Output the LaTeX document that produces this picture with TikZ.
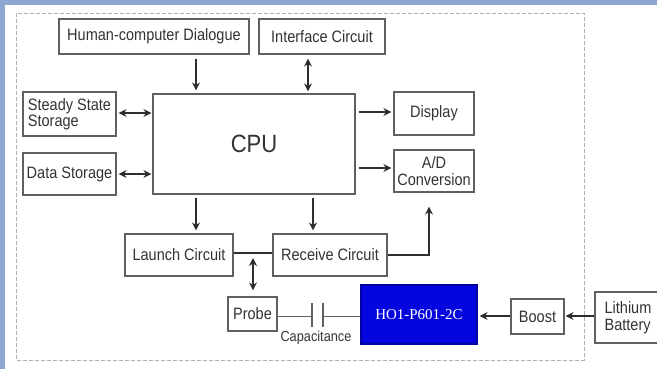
\documentclass[tikz,border=0pt]{standalone}
\usepackage{fontspec}
\newfontfamily\labf{Liberation Sans}[FakeStretch=0.88]
\newfontfamily\chipf{Liberation Serif}
\usetikzlibrary{arrows.meta,calc}
\definecolor{framebg}{HTML}{8EA6D2}
\definecolor{boxline}{HTML}{606060}
\definecolor{arrline}{HTML}{2E2E2E}
\definecolor{chipblue}{HTML}{0505E0}
\tikzset{
  box/.style={draw=boxline, line width=1.2pt, fill=white, inner sep=0pt, align=center,
    font=\labf\fontsize{16.5}{16.5}\selectfont, text=black!80},
  arr/.style={draw=arrline, line width=1.6pt, -{Stealth[length=8pt,width=8pt]}},
  darr/.style={draw=arrline, line width=1.6pt, {Stealth[length=8pt,width=8pt]}-{Stealth[length=8pt,width=8pt]}},
  plainline/.style={draw=arrline, line width=1.4pt},
  thinline/.style={draw=boxline, line width=1pt}
}
\begin{document}
\begin{tikzpicture}[x=1pt,y=-1pt]
\useasboundingbox (0,0) rectangle (657,369);
\fill[white] (0,0) rectangle (657,369);
\fill[framebg] (0,0) rectangle (657,5);
\fill[framebg] (0,0) rectangle (4.5,369);
\draw[gray!60, line width=0.8pt, dash pattern=on 4pt off 2pt] (16,13) rectangle (584,360);

\node[box, minimum width=190, minimum height=35] (hcd) at (154,36.5) {Human-computer Dialogue};
\node[box, minimum width=126, minimum height=35] (iface) at (322,36.5) {Interface Circuit};
\node[box, minimum width=93, minimum height=44, align=left] (steady) at (69.5,114) {Steady State\\Storage};
\node[box, minimum width=93, minimum height=42] (data) at (69.5,174) {Data Storage};
\node[box, minimum width=202, minimum height=100, font=\labf\fontsize{25}{25}\selectfont] (cpu) at (254,144) {CPU};
\node[box, minimum width=80, minimum height=43] (display) at (434,113.5) {Display};
\node[box, minimum width=80, minimum height=42] (ad) at (434,171) {A/D\\Conversion};
\node[box, minimum width=108, minimum height=42] (launch) at (179,255) {Launch Circuit};
\node[box, minimum width=114, minimum height=42] (receive) at (330,255) {Receive Circuit};
\node[box, minimum width=49, minimum height=34] (probe) at (252.5,314) {Probe};
\node[box, draw=chipblue!70!black, fill=chipblue, minimum width=116, minimum height=59, text=white, font=\chipf\fontsize{15}{15}\selectfont] (chip) at (419,314.5) {HO1-P601-2C};
\node[box, minimum width=53, minimum height=35] (boost) at (537.5,316.5) {Boost};
\node[box, minimum width=66, minimum height=51, align=left] (lith) at (628,317.5) {Lithium\\Battery};

\coordinate (xa) at (196,0);
\coordinate (xb) at (308,0);
\coordinate (xc) at (313,0);
\coordinate (xd) at (253,0);
\coordinate (xe) at (429,0);
\coordinate (ya) at (0,113);
\coordinate (yb) at (0,174);
\coordinate (yc) at (0,112);
\coordinate (yd) at (0,168);
\coordinate (ye) at (0,253);
\coordinate (yf) at (0,316);
\coordinate (cl) at (312,316);
\coordinate (cr) at (323,316);

\draw[arr, shorten <=4pt, shorten >=3pt] (hcd.south -| xa) -- (cpu.north -| xa);
\draw[darr, shorten <=4pt, shorten >=2pt] (iface.south -| xb) -- (cpu.north -| xb);
\draw[darr, shorten <=2pt, shorten >=1pt] (steady.east |- ya) -- (cpu.west |- ya);
\draw[darr, shorten <=2pt, shorten >=1pt] (data.east |- yb) -- (cpu.west |- yb);
\draw[arr, shorten <=3pt, shorten >=2pt] (cpu.east |- yc) -- (display.west |- yc);
\draw[arr, shorten <=3pt, shorten >=2pt] (cpu.east |- yd) -- (ad.west |- yd);
\draw[arr, shorten <=3pt, shorten >=3pt] (cpu.south -| xa) -- (launch.north -| xa);
\draw[arr, shorten <=3pt, shorten >=3pt] (cpu.south -| xc) -- (receive.north -| xc);
\draw[plainline] (launch.east |- ye) -- (receive.west |- ye);
\draw[darr, shorten <=5pt, shorten >=6pt] (xd |- ye) -- (probe.north -| xd);
\draw[plainline] (receive.east) -| ($(xe |- ad.south)+(0,15)$);
\draw[arr] ($(xe |- ad.south)+(0,17)$) -- ($(xe |- ad.south)+(0,14)$);
\draw[thinline] (probe.east |- yf) -- (cl);
\draw[thinline] (cr) -- (chip.west |- yf);
\draw[thinline, line width=1.2pt] ($(cl)+(0,-13)$) -- ($(cl)+(0,11)$);
\draw[thinline, line width=1.2pt] ($(cr)+(0,-13)$) -- ($(cr)+(0,11)$);
\node[font=\labf\fontsize{14.5}{14}\selectfont, text=black!80, inner sep=0pt] (caplabel) at (316,338) {Capacitance};
\draw[arr, shorten >=2pt] (boost.west |- yf) -- (chip.east |- yf);
\draw[arr, shorten >=1pt] (lith.west |- yf) -- (boost.east |- yf);
\end{tikzpicture}
\end{document}
